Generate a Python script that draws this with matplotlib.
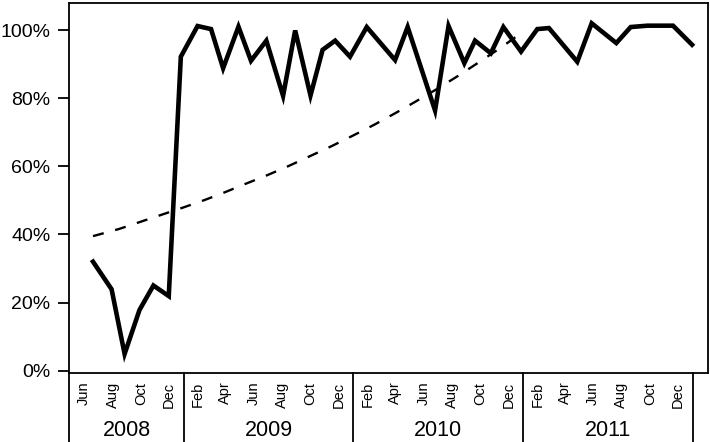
import numpy as np
import pandas as pd
import matplotlib
matplotlib.use('Agg')
import matplotlib.pyplot as plt
import matplotlib.dates as mdates
import matplotlib.transforms as mtransforms

plt.rcParams['font.family'] = ['Liberation Sans', 'DejaVu Sans']

# monthly share (%)
dates = ['2008-06-20', '2008-07-30', '2008-08-27', '2008-09-28', '2008-10-28',
         '2008-11-30', '2008-12-26', '2009-01-31', '2009-03-01', '2009-03-27',
         '2009-04-29', '2009-05-26', '2009-06-28', '2009-08-03', '2009-08-29',
         '2009-10-01', '2009-10-27', '2009-11-23', '2009-12-25', '2010-01-30',
         '2010-04-01', '2010-04-28', '2010-06-26', '2010-07-25', '2010-08-28',
         '2010-09-20', '2010-10-24', '2010-11-20', '2010-12-28', '2011-02-01',
         '2011-02-26', '2011-04-28', '2011-05-29', '2011-07-21', '2011-08-21',
         '2011-09-26', '2011-11-20', '2011-12-31']
values = [32.0, 23.9, 4.9, 17.8, 25.0,
          21.9, 92.2, 101.2, 100.3, 88.8,
          101.0, 91.0, 96.9, 80.7, 99.9,
          80.8, 94.2, 96.9, 92.2, 100.9,
          91.2, 100.9, 76.4, 101.2, 90.3,
          96.9, 93.2, 100.9, 93.7, 100.3,
          100.6, 90.7, 102.0, 96.2, 100.9,
          101.3, 101.3, 95.7]

# dashed trend line, sampled from the chart
trend_dates = ['2008-06-20', '2008-08-15', '2008-09-30', '2008-11-15', '2008-12-31',
               '2009-02-15', '2009-03-31', '2009-05-15', '2009-06-30', '2009-08-15',
               '2009-09-30', '2009-11-15', '2009-12-31', '2010-02-15', '2010-03-31',
               '2010-05-15', '2010-06-30', '2010-08-15', '2010-09-30', '2010-11-15',
               '2010-12-28']
trend_values = [39.5, 41.6, 43.7, 45.8, 47.9,
                50.1, 52.4, 54.9, 57.4, 60.1,
                63.0, 65.9, 69.0, 72.2, 75.5,
                79.0, 82.7, 86.6, 90.7, 94.9,
                99.1]

month_ticks = ['2008-06-01', '2008-08-01', '2008-10-01', '2008-12-01',
               '2009-02-01', '2009-04-01', '2009-06-01', '2009-08-01', '2009-10-01', '2009-12-01',
               '2010-02-01', '2010-04-01', '2010-06-01', '2010-08-01', '2010-10-01', '2010-12-01',
               '2011-02-01', '2011-04-01', '2011-06-01', '2011-08-01', '2011-10-01', '2011-12-01']
years = ['2008', '2009', '2010', '2011']
year_bounds = ['2009-01-01', '2010-01-01', '2011-01-01', '2012-01-01']

x = pd.to_datetime(dates)
xt = pd.to_datetime(trend_dates)
xlim = (pd.Timestamp('2008-04-30'), pd.Timestamp('2012-02-03'))

fig = plt.figure(figsize=(7.1, 4.42), dpi=100)
ax = fig.add_axes([0.0976, 0.1568, 0.8994, 0.8375])

ax.plot(x, values, color='black', lw=3.3, solid_joinstyle='miter')
ax.plot(xt, trend_values, color='black', lw=1.7, ls=(0, (4.7, 5.0)))

ax.set_xlim(xlim)
ax.set_ylim(-0.6, 108.1)

ax.set_yticks([0, 20, 40, 60, 80, 100])
ax.set_yticklabels(['0%', '20%', '40%', '60%', '80%', '100%'])
ax.tick_params(axis='y', length=8, width=1.3, pad=5.5, labelsize=14)

mt = pd.to_datetime(month_ticks)
ax.set_xticks(mdates.date2num(mt))
ax.set_xticklabels([d.strftime('%b') for d in mt], rotation=90, va='top', ha='center')
ax.tick_params(axis='x', length=0, pad=6.5, labelsize=10.5)

for s in ax.spines.values():
    s.set_linewidth(1.3)

# year groups below the axis
trans = mtransforms.blended_transform_factory(ax.transData, ax.transAxes)
left = mdates.date2num(xlim[0])
bounds = [left] + list(mdates.date2num(pd.to_datetime(year_bounds)))
for b in bounds:
    ax.plot([b, b], [0, -0.25], color='black', lw=1.3, transform=trans, clip_on=False)
for i, yr in enumerate(years):
    ax.text((bounds[i] + bounds[i + 1]) / 2, -0.157, yr, transform=trans,
            ha='center', va='center', fontsize=15.5)

plt.savefig('out.png')
